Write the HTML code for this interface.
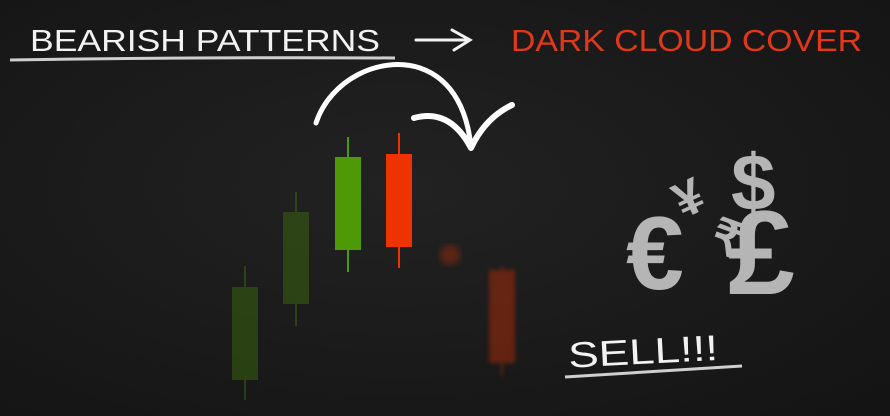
<!DOCTYPE html>
<html><head><meta charset="utf-8"><style>
html,body{margin:0;padding:0;background:#161616;}
svg{display:block;}
</style></head><body>
<svg id="chart" width="890" height="416" viewBox="0 0 890 416" xmlns="http://www.w3.org/2000/svg">
<defs>
<radialGradient id="bg" cx="0.45" cy="0.45" r="0.75">
<stop offset="0" stop-color="#222222"/><stop offset="1" stop-color="#141414"/>
</radialGradient>
<filter id="blur"><feGaussianBlur stdDeviation="2"/></filter>
<filter id="blur2"><feGaussianBlur stdDeviation="4"/></filter>
</defs>
<rect width="890" height="416" fill="url(#bg)"/>
<text x="30" y="51" font-family="Liberation Sans Narrow, Liberation Sans, sans-serif" font-size="31" fill="#f2f2f2" textLength="350" lengthAdjust="spacingAndGlyphs">BEARISH  PATTERNS</text>
<path d="M10 60 Q200 57 395 58" stroke="#cfcfcf" stroke-width="3" fill="none"/>
<path d="M416 40 L468 40 M452 30 L470 40 L454 50" stroke="#f2f2f2" stroke-width="3" fill="none" stroke-linecap="round"/>
<text x="511" y="51" font-family="Liberation Sans Narrow, Liberation Sans, sans-serif" font-size="31" fill="#e2381a" textLength="351" lengthAdjust="spacingAndGlyphs">DARK CLOUD COVER</text>
<path d="M316 123 C330 80 380 55 420 68 C455 80 468 115 471 148" stroke="#fff" stroke-width="5" fill="none" stroke-linecap="round"/>
<path d="M414 118 Q450 108 471 148 Q485 118 512 105" stroke="#fff" stroke-width="6" fill="none" stroke-linecap="round" stroke-linejoin="round"/>
<g id="candles"></g>
<g fill="#b5b5b5" font-family="Liberation Sans, sans-serif" font-weight="bold">
<text x="731" y="210" font-size="80">$</text>
<text x="674" y="212" font-size="50" transform="rotate(-25 695 195)">¥</text>
<text x="728" y="294" font-size="120">£</text>
<text x="712" y="256" font-size="48" transform="rotate(20 730 240)">₹</text>
<text x="626" y="289" font-size="104">€</text>
</g>
<text x="568" y="364" font-family="Liberation Sans Narrow, Liberation Sans, sans-serif" font-size="36" fill="#f2f2f2" textLength="150" lengthAdjust="spacingAndGlyphs" transform="rotate(-3 640 350)">SELL!!!</text>
<path d="M565 377 L742 366" stroke="#cfcfcf" stroke-width="3" fill="none"/>
</svg>
<script>
// Candle data (price units; price = pixel height from bottom of chart area)
const candleX = [245, 296, 348, 399, 502];
const openVals = [36, 112, 166, 262, 146];
const closeVals = [129, 204, 259, 169, 53];
const highVals = [150, 224, 279, 283, 150];
const lowVals = [16, 90, 144, 148, 40];
const candleAlpha = [0.3, 0.3, 1, 1, 0.35];
const blurDot = [450, 161];

const yBase = 416;
function yScale(v){ return yBase - v; }
function xScale(i){ return candleX[i]; }
const svg = document.getElementById('candles');
const NS = 'http://www.w3.org/2000/svg';
for (let i = 0; i < candleX.length; i++) {
  const up = closeVals[i] > openVals[i];
  const col = up ? '#4e9a06' : '#ee3300';
  const g = document.createElementNS(NS, 'g');
  
  
  g.setAttribute('opacity', candleAlpha[i]);
  if (i === 4) g.setAttribute('filter', 'url(#blur)');
  const w = document.createElementNS(NS, 'line');
  
  
  w.setAttribute('x1', xScale(i)); w.setAttribute('x2', xScale(i));
  w.setAttribute('y1', yScale(highVals[i])); w.setAttribute('y2', yScale(lowVals[i]));
  w.setAttribute('stroke', col); w.setAttribute('stroke-width', 2);
  g.appendChild(w);
  const r = document.createElementNS(NS, 'rect');
  
  
  const top = yScale(Math.max(openVals[i], closeVals[i]));
  const bot = yScale(Math.min(openVals[i], closeVals[i]));
  r.setAttribute('x', xScale(i) - 13); r.setAttribute('y', top);
  r.setAttribute('width', 26); r.setAttribute('height', bot - top);
  r.setAttribute('fill', col);
  g.appendChild(r);
  svg.appendChild(g);
}
const dot = document.createElementNS(NS, 'circle');


dot.setAttribute('cx', blurDot[0]); dot.setAttribute('cy', yScale(blurDot[1]));
dot.setAttribute('r', 10); dot.setAttribute('fill', '#8a2a10');
dot.setAttribute('opacity', 0.6); dot.setAttribute('filter', 'url(#blur2)');
svg.appendChild(dot);
</script>
</body></html>
